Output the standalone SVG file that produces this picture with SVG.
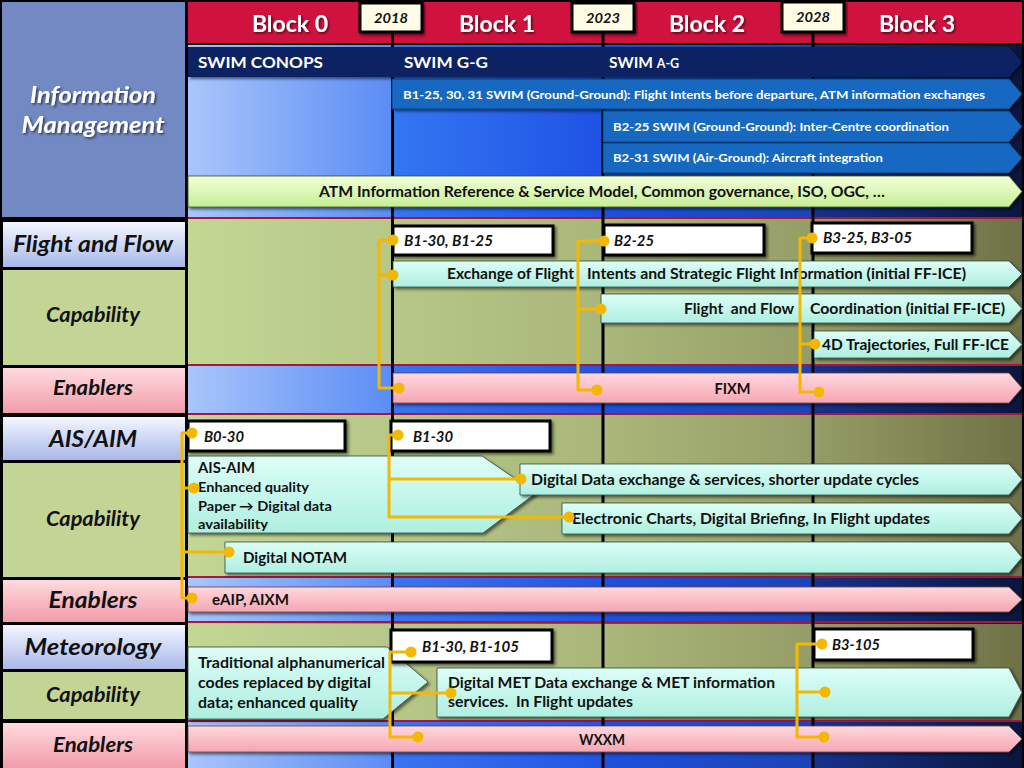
<svg xmlns="http://www.w3.org/2000/svg" width="1024" height="768" viewBox="0 0 1024 768">
<defs>
<linearGradient id="gBlue" gradientUnits="userSpaceOnUse" x1="188" y1="0" x2="1022" y2="0">
<stop offset="0" stop-color="#A9C5FB"/><stop offset="0.242" stop-color="#5B8DF4"/><stop offset="0.247" stop-color="#3A74F0"/><stop offset="0.494" stop-color="#2355E4"/><stop offset="0.501" stop-color="#1F50DC"/><stop offset="0.746" stop-color="#1B44B8"/><stop offset="0.753" stop-color="#17318A"/><stop offset="1" stop-color="#0A163F"/>
</linearGradient>
<linearGradient id="gOlive" gradientUnits="userSpaceOnUse" x1="188" y1="0" x2="1022" y2="0">
<stop offset="0" stop-color="#C3D795"/><stop offset="0.5" stop-color="#A9B77A"/><stop offset="0.75" stop-color="#959D66"/><stop offset="1" stop-color="#6E7145"/>
</linearGradient>
<linearGradient id="gInfoL" x1="0" y1="0" x2="1" y2="0"><stop offset="0" stop-color="#AAC6FB"/><stop offset="1" stop-color="#5A8CF4"/></linearGradient>
<linearGradient id="gInfoM" x1="0" y1="0" x2="1" y2="0"><stop offset="0" stop-color="#3477F3"/><stop offset="1" stop-color="#1F52E4"/></linearGradient>
<linearGradient id="gCyan" x1="0" y1="0" x2="0" y2="1"><stop offset="0" stop-color="#DDFEF7"/><stop offset="1" stop-color="#AEEFE0"/></linearGradient>
<linearGradient id="gPink" x1="0" y1="0" x2="0" y2="1"><stop offset="0" stop-color="#FFD8DE"/><stop offset="1" stop-color="#F4A6B2"/></linearGradient>
<linearGradient id="gGreen" x1="0" y1="0" x2="0" y2="1"><stop offset="0" stop-color="#F2FFDA"/><stop offset="1" stop-color="#C6EE94"/></linearGradient>
<linearGradient id="gLav" x1="0" y1="0" x2="0" y2="1"><stop offset="0" stop-color="#F4F6FF"/><stop offset="1" stop-color="#A8B8E8"/></linearGradient>
<linearGradient id="gPinkL" x1="0" y1="0" x2="0" y2="1"><stop offset="0" stop-color="#FFDADF"/><stop offset="1" stop-color="#F29CAA"/></linearGradient>
<filter id="sh" x="-5%" y="-20%" width="110%" height="150%"><feDropShadow dx="2" dy="2" stdDeviation="1.5" flood-color="#000" flood-opacity="0.55"/></filter>
<filter id="tsh" x="-10%" y="-20%" width="120%" height="150%"><feDropShadow dx="1.5" dy="1.5" stdDeviation="1" flood-color="#000" flood-opacity="0.6"/></filter>
</defs>
<style>
text{font-family:Lato,"Liberation Sans",sans-serif;font-weight:bold}
.side{font-style:italic;text-anchor:middle;fill:#111}
.bk{fill:#111}
.it{font-style:italic}
.box{fill:#fff;stroke:#000;stroke-width:3;filter:url(#sh)}
.yr{fill:#FFFDE6;stroke:#000;stroke-width:3;filter:url(#sh)}
.cy{fill:url(#gCyan);stroke:#2d4d45;stroke-width:0.8;filter:url(#sh)}
.pk{fill:url(#gPink);stroke:#6a4048;stroke-width:0.8;filter:url(#sh)}
.sw{fill:#1268C0;stroke:#0a3d70;stroke-width:0.8;filter:url(#sh)}
.conn{stroke:#F5B800;stroke-width:3;fill:none;stroke-linejoin:round}
.dot{fill:#F5B800}
.grid{stroke:#000;stroke-width:3}
.sep{fill:#A8163C}
</style>

<rect x="0" y="0" width="1024" height="768" fill="#000"/>

<!-- left column -->
<g id="side-info"><rect x="2" y="2" width="183" height="215" fill="#7389C4"/>
<text class="side" x="93" y="103" font-size="22.5" filter="url(#tsh)" textLength="126" lengthAdjust="spacingAndGlyphs" style="fill:#fff">Information</text>
<text class="side" x="93" y="133" font-size="22.5" filter="url(#tsh)" textLength="143" lengthAdjust="spacingAndGlyphs" style="fill:#fff">Management</text></g>
<g id="side-ff"><rect x="3" y="222" width="182" height="45" fill="url(#gLav)"/><text class="side" x="93" y="252" font-size="22" textLength="160" lengthAdjust="spacingAndGlyphs">Flight and Flow</text></g>
<g id="side-ff-cap"><rect x="3" y="270" width="182" height="95" fill="#C3D494"/><text class="side" x="93" y="322" font-size="20" textLength="94" lengthAdjust="spacingAndGlyphs">Capability</text></g>
<g id="side-ff-en"><rect x="3" y="368" width="182" height="45" fill="url(#gPinkL)"/><text class="side" x="93" y="395" font-size="20" textLength="80" lengthAdjust="spacingAndGlyphs">Enablers</text></g>
<g id="side-ais"><rect x="3" y="417" width="182" height="43" fill="url(#gLav)"/><text class="side" x="93" y="447" font-size="23" textLength="88" lengthAdjust="spacingAndGlyphs">AIS/AIM</text></g>
<g id="side-ais-cap"><rect x="3" y="463" width="182" height="114" fill="#C3D494"/><text class="side" x="93" y="526" font-size="20" textLength="94" lengthAdjust="spacingAndGlyphs">Capability</text></g>
<g id="side-ais-en"><rect x="3" y="580" width="182" height="42" fill="url(#gPinkL)"/><text class="side" x="93" y="608" font-size="22.5" textLength="89" lengthAdjust="spacingAndGlyphs">Enablers</text></g>
<g id="side-met"><rect x="3" y="625" width="182" height="44" fill="url(#gLav)"/><text class="side" x="93" y="655" font-size="22" textLength="137" lengthAdjust="spacingAndGlyphs">Meteorology</text></g>
<g id="side-met-cap"><rect x="3" y="672" width="182" height="47" fill="#C3D494"/><text class="side" x="93" y="702" font-size="20" textLength="94" lengthAdjust="spacingAndGlyphs">Capability</text></g>
<g id="side-met-en"><rect x="3" y="723" width="182" height="45" fill="url(#gPinkL)"/><text class="side" x="93" y="752" font-size="20" textLength="80" lengthAdjust="spacingAndGlyphs">Enablers</text></g>

<!-- main backgrounds -->
<g id="backgrounds">
<rect x="188" y="2" width="834" height="41" fill="#D0123F"/>
<rect x="188" y="45" width="834" height="723" fill="url(#gBlue)"/>
<rect x="188" y="78" width="204" height="139" fill="url(#gInfoL)"/>
<rect x="392" y="110" width="211" height="107" fill="url(#gInfoM)"/>
<rect x="188" y="219" width="834" height="145" fill="url(#gOlive)"/>
<rect x="188" y="415" width="834" height="161" fill="url(#gOlive)"/>
<rect x="188" y="624" width="834" height="96" fill="url(#gOlive)"/>
<rect class="sep" x="188" y="217" width="834" height="2"/>
<rect class="sep" x="188" y="364" width="834" height="2"/>
<rect class="sep" x="188" y="413" width="834" height="2"/>
<rect class="sep" x="188" y="576" width="834" height="2"/>
<rect class="sep" x="188" y="621" width="834" height="2"/>
<rect class="sep" x="188" y="720" width="834" height="2"/>
<line class="grid" x1="392.5" y1="30" x2="392.5" y2="768"/>
<line class="grid" x1="603" y1="30" x2="603" y2="768"/>
<line class="grid" x1="813" y1="30" x2="813" y2="768"/>
</g>

<!-- header -->
<g id="header">
<text x="290" y="32" font-size="23" text-anchor="middle" style="fill:#fff" filter="url(#tsh)">Block 0</text>
<text x="497" y="32" font-size="23" text-anchor="middle" style="fill:#fff" filter="url(#tsh)">Block 1</text>
<text x="707" y="32" font-size="23" text-anchor="middle" style="fill:#fff" filter="url(#tsh)">Block 2</text>
<text x="917" y="32" font-size="23" text-anchor="middle" style="fill:#fff" filter="url(#tsh)">Block 3</text>
</g>
<g id="year-2018"><rect class="yr" x="360" y="3" width="62" height="29"/><text class="bk it" x="391" y="23" font-size="14" text-anchor="middle" textLength="34" lengthAdjust="spacingAndGlyphs">2018</text></g>
<g id="year-2023"><rect class="yr" x="572" y="3" width="62" height="29"/><text class="bk it" x="603" y="23" font-size="14" text-anchor="middle" textLength="34" lengthAdjust="spacingAndGlyphs">2023</text></g>
<g id="year-2028"><rect class="yr" x="782" y="2" width="62" height="30"/><text class="bk it" x="813" y="22" font-size="14" text-anchor="middle" textLength="34" lengthAdjust="spacingAndGlyphs">2028</text></g>

<!-- information management -->
<g id="swim-band"><polygon points="188,47 1009,47 1022,62 1009,77 188,77" fill="#0B2263" filter="url(#sh)"/>
<text x="198" y="68" font-size="15.5" style="fill:#fff" textLength="125" lengthAdjust="spacingAndGlyphs">SWIM CONOPS</text>
<text x="404" y="68" font-size="15.5" style="fill:#fff" textLength="84" lengthAdjust="spacingAndGlyphs">SWIM G-G</text>
<text x="609" y="68" font-size="15.5" style="fill:#fff">SWIM <tspan font-size="12.5">A-G</tspan></text></g>
<g id="b1-25-swim"><polygon class="sw" points="392,79 1009,79 1022,94 1009,109 392,109"/>
<text x="403" y="99" font-size="12" style="fill:#fff" textLength="582" lengthAdjust="spacingAndGlyphs">B1-25, 30, 31 SWIM (Ground-Ground): Flight Intents before departure, ATM information exchanges</text></g>
<g id="b2-25-swim"><polygon class="sw" points="603,111 1009,111 1022,126.5 1009,142 603,142"/>
<text x="613" y="131" font-size="12" style="fill:#fff" textLength="336" lengthAdjust="spacingAndGlyphs">B2-25 SWIM (Ground-Ground): Inter-Centre coordination</text></g>
<g id="b2-31-swim"><polygon class="sw" points="603,143 1009,143 1022,158 1009,173 603,173"/>
<text x="613" y="162" font-size="12" style="fill:#fff" textLength="270" lengthAdjust="spacingAndGlyphs">B2-31 SWIM (Air-Ground): Aircraft integration</text></g>
<g id="atm-model"><polygon points="188,176 1009,176 1022,191.5 1009,207 188,207" fill="url(#gGreen)" stroke="#3a5020" stroke-width="0.8" filter="url(#sh)"/>
<text class="bk" x="319" y="197" font-size="15" textLength="566" lengthAdjust="spacingAndGlyphs">ATM Information Reference &amp; Service Model, Common governance, ISO, OGC, …</text></g>

<!-- flight and flow -->
<g id="ff-exchange"><polygon class="cy" points="393,261 1009,261 1022,274 1009,287 393,287"/>
<text class="bk" x="447" y="279" font-size="15" textLength="127" lengthAdjust="spacingAndGlyphs">Exchange of Flight</text>
<text class="bk" x="587" y="279" font-size="15" textLength="379" lengthAdjust="spacingAndGlyphs">Intents and Strategic Flight Information (initial FF-ICE)</text></g>
<g id="ff-coord"><polygon class="cy" points="601,294 1009,294 1022,308.5 1009,323 601,323"/>
<text class="bk" x="684" y="314" font-size="15" textLength="110" lengthAdjust="spacingAndGlyphs" xml:space="preserve">Flight  and Flow</text>
<text class="bk" x="810" y="314" font-size="15" textLength="195" lengthAdjust="spacingAndGlyphs">Coordination (initial FF-ICE)</text></g>
<g id="ff-4d"><polygon class="cy" points="814,331 1009,331 1022,344.5 1009,358 814,358"/>
<text class="bk" x="822" y="350" font-size="15" textLength="187" lengthAdjust="spacingAndGlyphs">4D Trajectories, Full FF-ICE</text></g>
<g id="ff-fixm"><polygon class="pk" points="393,373 1009,373 1022,388 1009,403 393,403"/>
<text class="bk" x="732.5" y="394" font-size="14.5" text-anchor="middle" textLength="36" lengthAdjust="spacingAndGlyphs">FIXM</text></g>
<g id="box-b1-30-b1-25"><rect class="box" x="393" y="226" width="160" height="29"/><text class="bk it" x="404" y="246" font-size="14.5" textLength="89" lengthAdjust="spacingAndGlyphs">B1-30, B1-25</text></g>
<g id="box-b2-25"><rect class="box" x="604" y="225" width="160" height="30"/><text class="bk it" x="614" y="246" font-size="14.5" textLength="40" lengthAdjust="spacingAndGlyphs">B2-25</text></g>
<g id="box-b3-25-b3-05"><rect class="box" x="812" y="223" width="160" height="30"/><text class="bk it" x="823" y="243" font-size="14.5" textLength="89" lengthAdjust="spacingAndGlyphs">B3-25, B3-05</text></g>

<!-- AIS/AIM -->
<g id="ais-aim"><polygon class="cy" points="188,456 482,456 536,493 483,533 188,533"/>
<text class="bk" x="198" y="473" font-size="15" textLength="57" lengthAdjust="spacingAndGlyphs">AIS-AIM</text>
<text class="bk" x="198" y="492" font-size="13.5" textLength="111" lengthAdjust="spacingAndGlyphs">Enhanced quality</text>
<text class="bk" x="198" y="511" font-size="13.5" textLength="134" lengthAdjust="spacingAndGlyphs">Paper → Digital data</text>
<text class="bk" x="198" y="529" font-size="13.5" textLength="70" lengthAdjust="spacingAndGlyphs">availability</text></g>
<g id="ais-digital-data"><polygon class="cy" points="520,464 1009,464 1022,479.5 1009,495 520,495"/>
<text class="bk" x="531" y="485" font-size="15" textLength="388" lengthAdjust="spacingAndGlyphs">Digital Data exchange &amp; services, shorter update cycles</text></g>
<g id="ais-charts"><polygon class="cy" points="562,503 1009,503 1022,518.5 1009,534 562,534"/>
<text class="bk" x="572" y="524" font-size="15" textLength="358" lengthAdjust="spacingAndGlyphs">Electronic Charts, Digital Briefing, In Flight updates</text></g>
<g id="ais-notam"><polygon class="cy" points="225,542 1009,542 1022,557.5 1009,573 225,573"/>
<text class="bk" x="243" y="563" font-size="15" textLength="104" lengthAdjust="spacingAndGlyphs">Digital NOTAM</text></g>
<g id="ais-eaip"><polygon class="pk" points="188,587 1009,587 1022,599.5 1009,612 188,612"/>
<text class="bk" x="212" y="605" font-size="14.5" textLength="77" lengthAdjust="spacingAndGlyphs">eAIP, AIXM</text></g>
<g id="box-b0-30"><rect class="box" x="188" y="421" width="157" height="30"/><text class="bk it" x="204" y="442" font-size="14.5" textLength="40" lengthAdjust="spacingAndGlyphs">B0-30</text></g>
<g id="box-b1-30"><rect class="box" x="391" y="421" width="159" height="30"/><text class="bk it" x="413" y="442" font-size="14.5" textLength="40" lengthAdjust="spacingAndGlyphs">B1-30</text></g>

<!-- meteorology -->
<g id="met-traditional"><polygon class="cy" points="188,647 387,647 428,682 383,719 188,719"/>
<text class="bk" x="198" y="668" font-size="15" textLength="187" lengthAdjust="spacingAndGlyphs">Traditional alphanumerical</text>
<text class="bk" x="198" y="688" font-size="15" textLength="173" lengthAdjust="spacingAndGlyphs">codes replaced by digital</text>
<text class="bk" x="198" y="708" font-size="15" textLength="160" lengthAdjust="spacingAndGlyphs">data; enhanced quality</text></g>
<g id="met-digital"><polygon class="cy" points="437,668 1009,668 1022,692.5 1009,717 437,717"/>
<text class="bk" x="448" y="688" font-size="15" textLength="327" lengthAdjust="spacingAndGlyphs">Digital MET Data exchange &amp; MET information</text>
<text class="bk" x="448" y="707" font-size="15" textLength="185" lengthAdjust="spacingAndGlyphs" xml:space="preserve">services.  In Flight updates</text></g>
<g id="met-wxxm"><polygon class="pk" points="188,726 1009,726 1022,739 1009,752 188,752"/>
<text class="bk" x="602" y="745" font-size="14.5" text-anchor="middle" textLength="46" lengthAdjust="spacingAndGlyphs">WXXM</text></g>
<g id="box-b1-30-b1-105"><rect class="box" x="391" y="630" width="161" height="32"/><text class="bk it" x="422" y="652" font-size="14.5" textLength="97" lengthAdjust="spacingAndGlyphs">B1-30, B1-105</text></g>
<g id="box-b3-105"><rect class="box" x="814" y="629" width="159" height="31"/><text class="bk it" x="832" y="650" font-size="14.5" textLength="48" lengthAdjust="spacingAndGlyphs">B3-105</text></g>

<!-- connectors -->
<g id="connectors">
<path class="conn" d="M393,240 H379 V388 H399 M379,275 H393"/>
<path class="conn" d="M604,241 H578 V390 H597 M578,309 H601"/>
<path class="conn" d="M812,238 H800 V392 H819 M800,344 H815"/>
<path class="conn" d="M192,433 H182 V598 H192 M182,488 H194 M182,552 H229"/>
<path class="conn" d="M398,435 H389 V517 H569 M389,479 H521"/>
<path class="conn" d="M411,652 H390 V737 H418 M390,693 H451"/>
<path class="conn" d="M822,644 H797 V737 H824 M797,692 H825"/>
<circle class="dot" cx="393" cy="240" r="5.5"/><circle class="dot" cx="393" cy="275" r="5.5"/><circle class="dot" cx="399" cy="388" r="5.5"/>
<circle class="dot" cx="604" cy="241" r="5.5"/><circle class="dot" cx="601" cy="309" r="5.5"/><circle class="dot" cx="597" cy="390" r="5.5"/>
<circle class="dot" cx="812" cy="238" r="5.5"/><circle class="dot" cx="815" cy="344" r="5.5"/><circle class="dot" cx="819" cy="392" r="5.5"/>
<circle class="dot" cx="192" cy="433" r="5.5"/><circle class="dot" cx="194" cy="488" r="5.5"/><circle class="dot" cx="229" cy="552" r="5.5"/><circle class="dot" cx="192" cy="598" r="5.5"/>
<circle class="dot" cx="398" cy="435" r="5.5"/><circle class="dot" cx="521" cy="479" r="5.5"/><circle class="dot" cx="569" cy="517" r="5.5"/>
<circle class="dot" cx="411" cy="652" r="5.5"/><circle class="dot" cx="451" cy="693" r="5.5"/><circle class="dot" cx="418" cy="737" r="5.5"/>
<circle class="dot" cx="822" cy="644" r="5.5"/><circle class="dot" cx="825" cy="692" r="5.5"/><circle class="dot" cx="824" cy="737" r="5.5"/>
</g>
</svg>
